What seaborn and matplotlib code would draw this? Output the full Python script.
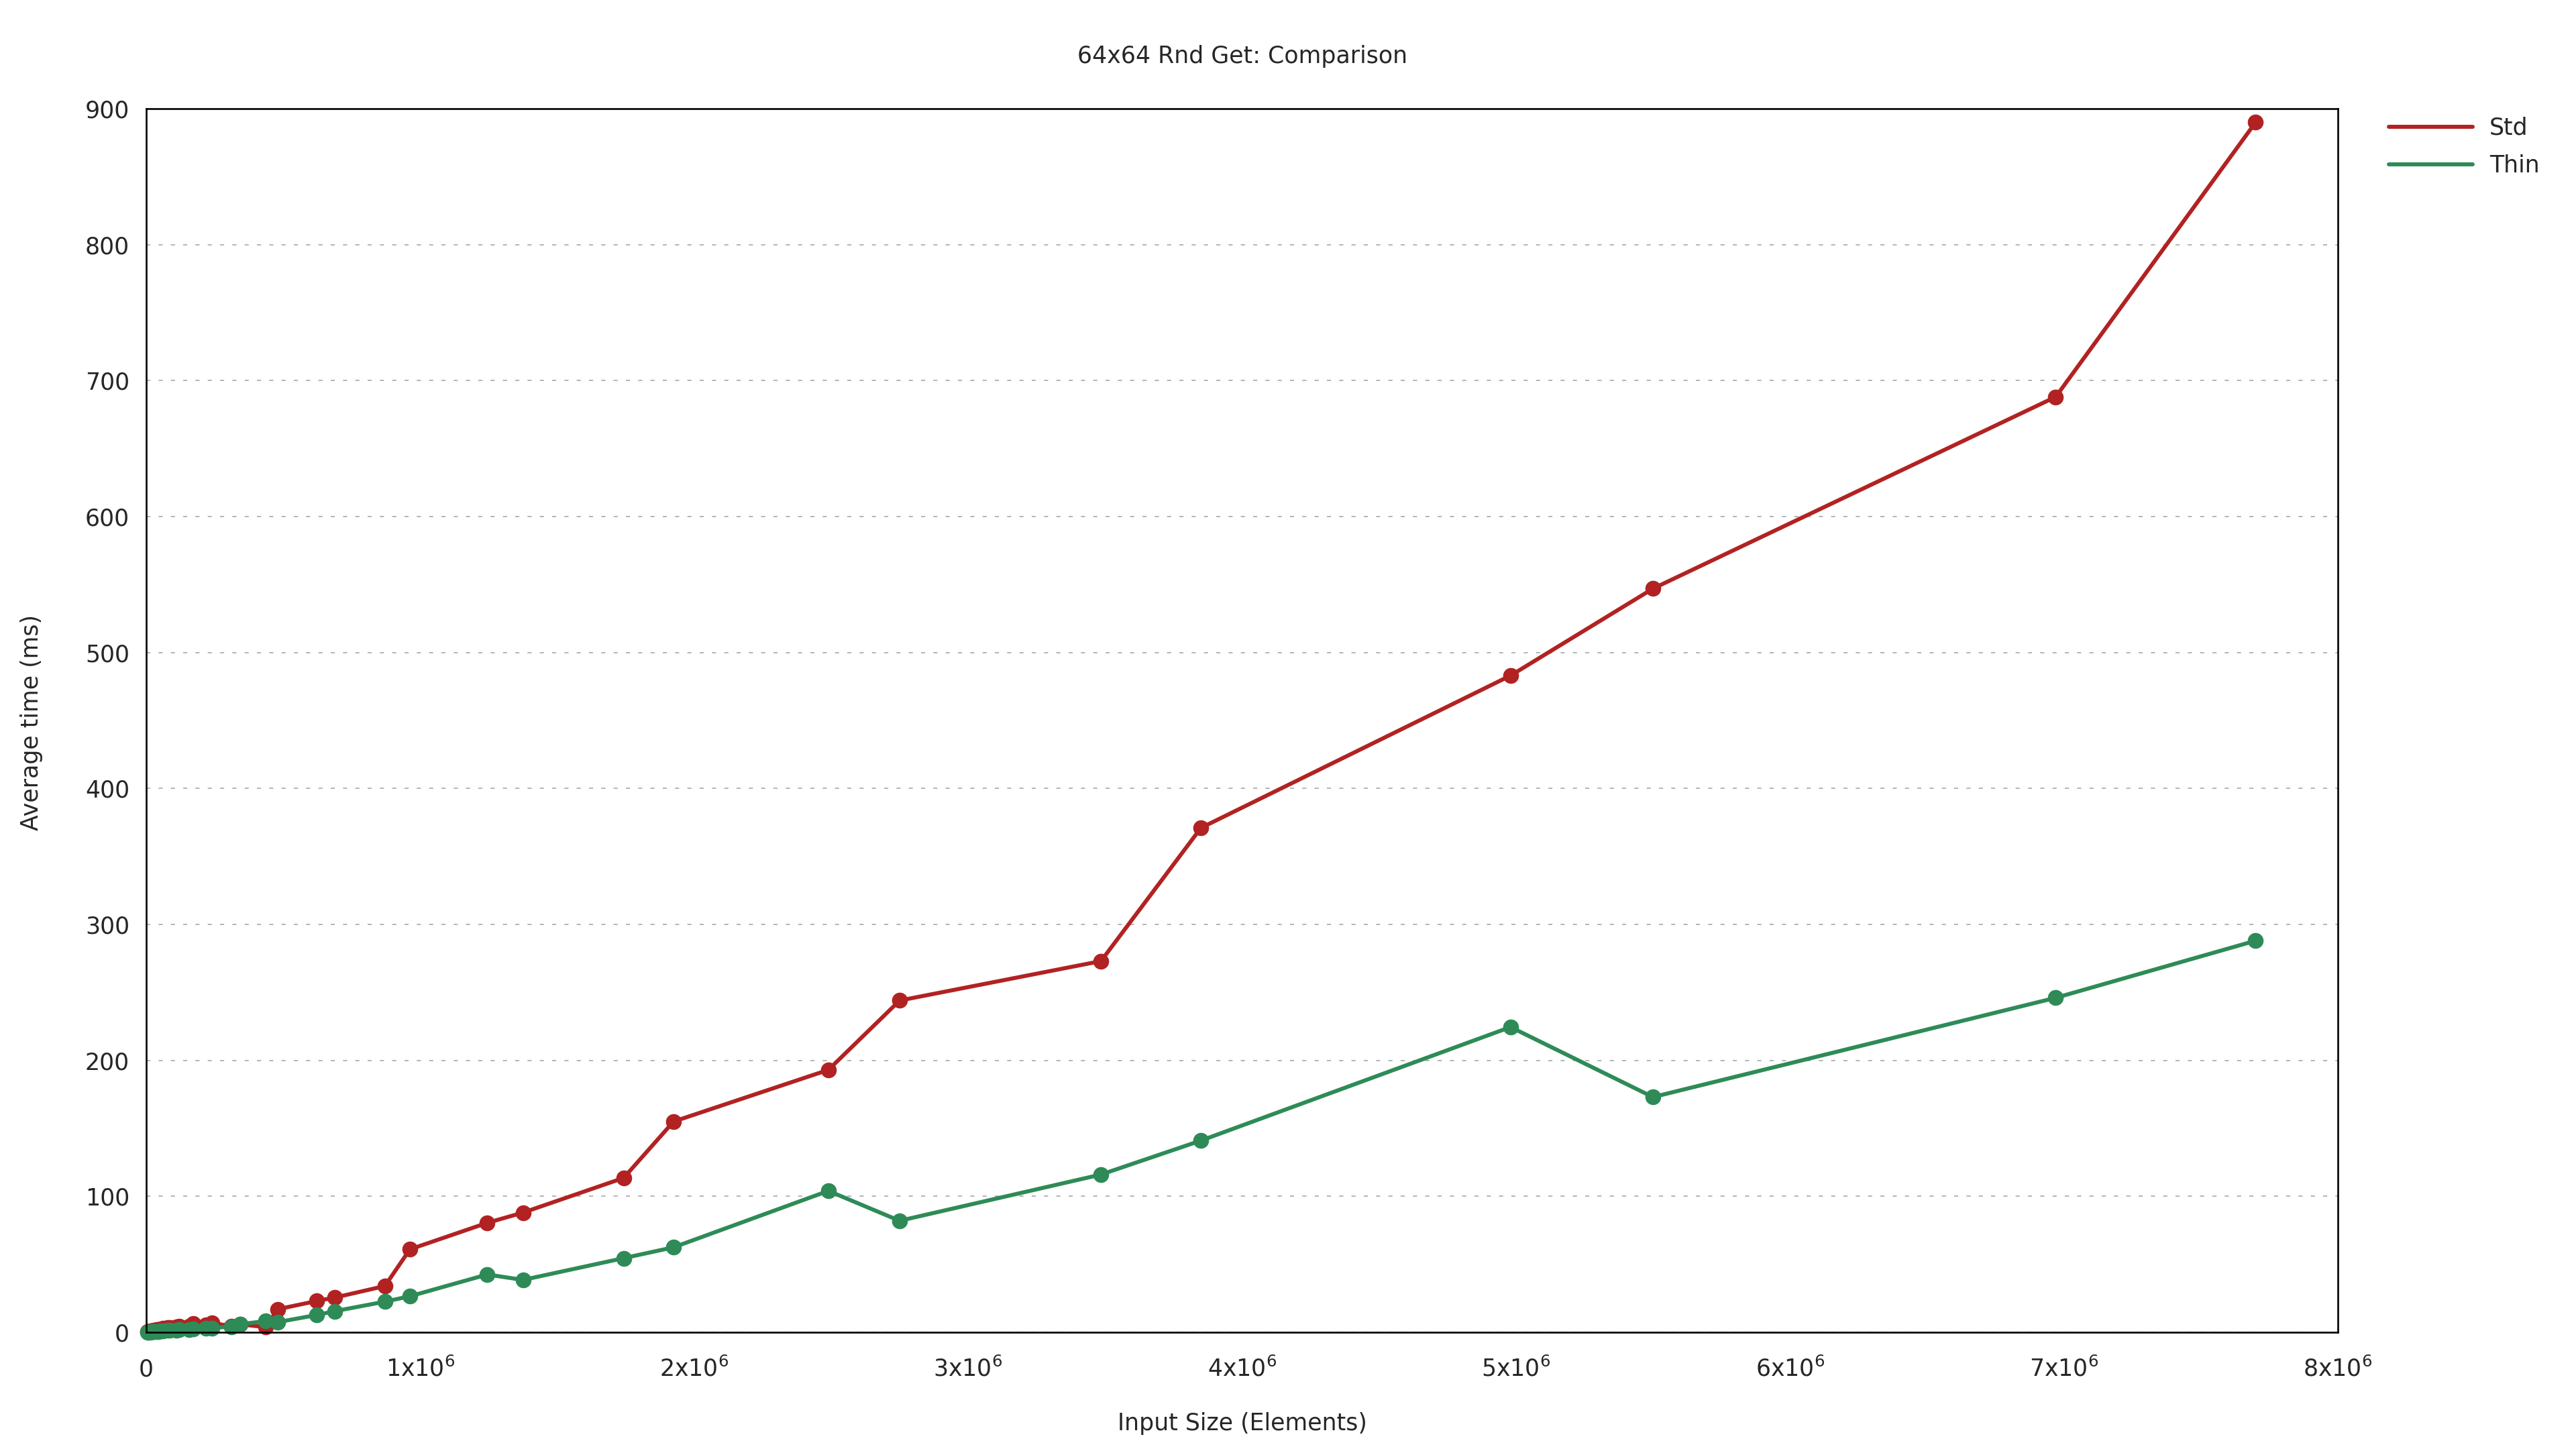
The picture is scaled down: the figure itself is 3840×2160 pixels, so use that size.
import pandas as pd
import seaborn as sns
import matplotlib
matplotlib.use("Agg")
import matplotlib.pyplot as plt
from matplotlib.lines import Line2D

# Data
sizes = [3800, 7500, 15000, 19500, 21500, 27200, 30100, 39000, 43000, 54500, 60200, 78000,
         86000, 109000, 120300, 156000, 172000, 218000, 240600, 311000, 344000, 436000,
         481000, 622500, 687500, 871000, 962500, 1245000, 1375000, 1742500, 1925000, 2490000,
         2750000, 3485000, 3850000, 4980000, 5500000, 6970000, 7700000]
std_ms = [0.3, 0.5, 0.8, 1.0, 1.2, 1.5, 1.7, 2.0, 2.2, 2.6, 2.8, 3.3,
          3.6, 4.0, 4.4, 4.5, 6.5, 5.5, 6.8, 4.5, 5.8, 3.8,
          17, 23, 25.5, 34, 61, 80.5, 88, 113.5, 155, 193,
          244, 273, 371, 483, 547, 688, 890]
thin_ms = [0.1, 0.1, 0.2, 0.3, 0.3, 0.4, 0.5, 0.6, 0.7, 0.9, 1.0, 1.3,
           1.5, 1.7, 1.9, 2.0, 2.5, 2.8, 3.2, 4.1, 6.0, 8.2,
           7.5, 12.7, 15.5, 22.5, 26.5, 42.5, 38.5, 54.5, 62.5, 104,
           82, 116, 141, 224.5, 173, 246, 288]
series = ["Std", "Thin"]
colors = {"Std": "#b22222", "Thin": "#2e8b57"}
xticks = [0, 1e6, 2e6, 3e6, 4e6, 5e6, 6e6, 7e6, 8e6]
xticklabels = ["0"] + [r"$\mathregular{%dx10^{6}}$" % i for i in range(1, 9)]
yticks = list(range(0, 1000, 100))

df = pd.concat([
    pd.DataFrame({"size": sizes, "time": std_ms, "impl": "Std"}),
    pd.DataFrame({"size": sizes, "time": thin_ms, "impl": "Thin"}),
])

sns.set_style("white")
plt.rcParams["font.family"] = ["DejaVu Sans"]
fs = 25

fig = plt.figure(figsize=(38.4, 21.6), dpi=100)
ax = fig.add_axes([0.05677, 0.08056, 0.85078, 0.84444])

sns.lineplot(data=df, x="size", y="time", hue="impl", hue_order=series,
             palette=colors, marker="o", markersize=17, markeredgewidth=0,
             linewidth=4.3, legend=False, ax=ax, sort=False, clip_on=False)

ax.set_xlim(0, 8e6)
ax.set_ylim(0, 900)
ax.set_xticks(xticks)
ax.set_xticklabels(xticklabels, fontsize=fs)
ax.set_yticks(yticks)
ax.set_yticklabels([str(v) for v in yticks], fontsize=fs)
ax.tick_params(axis="both", direction="in", length=19, width=1.4, color="black")
ax.tick_params(axis="x", pad=47)
ax.tick_params(axis="y", pad=18)
for lab in ax.get_xticklabels():
    lab.set_verticalalignment("baseline")

for s in ax.spines.values():
    s.set_visible(True)
    s.set_color("black")
    s.set_linewidth(1.9)

ax.yaxis.grid(True, color="#a0a0a0", linewidth=1.1, linestyle=(0, (4, 8)))
ax.xaxis.grid(False)

ax.set_xlabel("Input Size (Elements)", fontsize=fs)
ax.xaxis.set_label_coords(0.5, -0.0746)
ax.xaxis.label.set_verticalalignment("center")
ax.set_ylabel("Average time (ms)", fontsize=fs)
ax.yaxis.set_label_coords(-0.0523, 0.4984)
ax.yaxis.label.set_verticalalignment("center")

fig.text(0.4823, 1 - 84 / 2160, "64x64 Rnd Get: Comparison", fontsize=fs,
         ha="center", va="center")

handles = [Line2D([], [], color=colors[s], linewidth=4.3) for s in series]
ax.legend(handles, series, loc="upper left", bbox_to_anchor=(0.9273, 0.9195),
          bbox_transform=fig.transFigure, frameon=False, fontsize=fs,
          borderpad=0, borderaxespad=0, handlelength=3.6, handletextpad=0.73,
          labelspacing=0.63)

fig.savefig("out.png", dpi=100, facecolor="white")
